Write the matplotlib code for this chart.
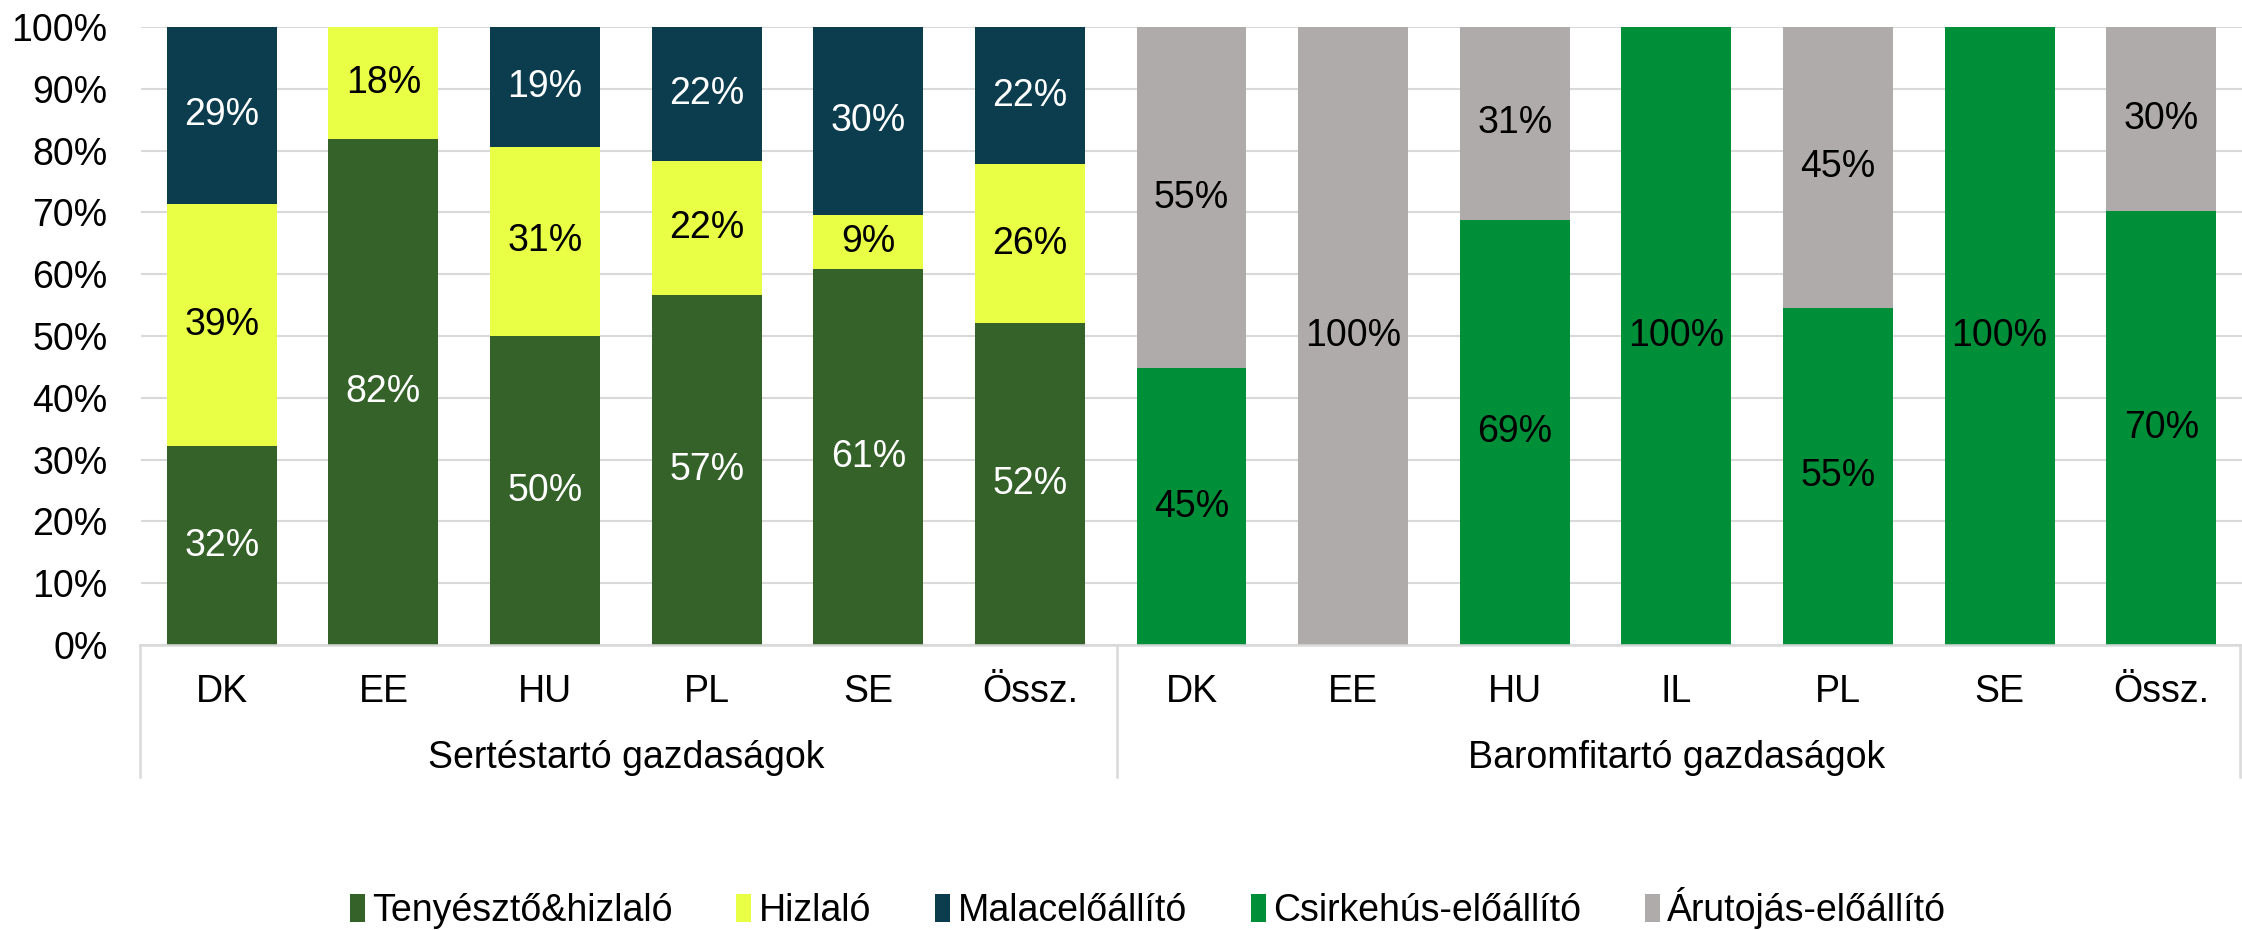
import numpy as np
import matplotlib.pyplot as plt
from matplotlib.patches import Patch

plt.rcParams['font.family'] = ['Liberation Sans', 'DejaVu Sans']

# Data (percent shares)
categories = ['DK', 'EE', 'HU', 'PL', 'SE', 'Össz.',
              'DK', 'EE', 'HU', 'IL', 'PL', 'SE', 'Össz.']
groups = ['Sertéstartó gazdaságok', 'Baromfitartó gazdaságok']
group_sizes = [6, 7]

tenyeszto = [32.2, 81.9, 50.0, 56.6, 60.8, 52.1, 0, 0, 0, 0, 0, 0, 0]
hizlalo = [39.2, 18.1, 30.6, 21.7, 8.8, 25.7, 0, 0, 0, 0, 0, 0, 0]
malac = [28.6, 0, 19.4, 21.7, 30.4, 22.2, 0, 0, 0, 0, 0, 0, 0]
csirke = [0, 0, 0, 0, 0, 0, 44.8, 0, 68.8, 100, 54.6, 100, 70.2]
tojas = [0, 0, 0, 0, 0, 0, 55.2, 100, 31.2, 0, 45.4, 0, 29.8]

series = [
    ('Tenyésztő&hizlaló', tenyeszto, '#346229', 'white'),
    ('Hizlaló', hizlalo, '#E9FF45', 'black'),
    ('Malacelőállító', malac, '#0B3D4E', 'white'),
    ('Csirkehús-előállító', csirke, '#008F39', 'black'),
    ('Árutojás-előállító', tojas, '#AFABAB', 'black'),
]

FS = 27

fig = plt.figure(figsize=(22.42, 9.3), dpi=100)
ax = fig.add_axes([141 / 2242, 1 - 645 / 930, 2101 / 2242, 618 / 930])

x = np.arange(len(categories))
bottom = np.zeros(len(categories))
for name, vals, color, tcolor in series:
    vals = np.array(vals, dtype=float)
    ax.bar(x, vals, width=0.68, bottom=bottom, color=color, zorder=2)
    for xi, v, b in zip(x, vals, bottom):
        if v > 0:
            ax.text(xi, b + v / 2, f'{v:.0f}%', ha='center', va='center',
                    fontsize=FS, color=tcolor, zorder=3)
    bottom += vals

ax.set_xlim(-0.5, len(categories) - 0.5)
ax.set_ylim(0, 100)
ax.set_yticks(np.arange(0, 101, 10))
ax.set_yticklabels([f'{v}%' for v in range(0, 101, 10)], fontsize=FS)
ax.yaxis.grid(True, color='#D9D9D9', linewidth=1.5, zorder=0)
ax.set_axisbelow(True)
ax.tick_params(axis='y', length=0, pad=24)
ax.tick_params(axis='x', length=0, pad=21)
ax.set_xticks(x)
ax.set_xticklabels(categories, fontsize=FS)
for s in ['top', 'right', 'left', 'bottom']:
    ax.spines[s].set_visible(False)

# axis line and group separators (figure pixel coordinates)
line_kw = dict(color='#D9D9D9', linewidth=1.8, transform=fig.transFigure)
fig.add_artist(plt.Line2D([140 / 2242, 1], [1 - 645 / 930] * 2, **line_kw))
for px in [140, 1117, 2240]:
    fig.add_artist(plt.Line2D([px / 2242] * 2, [1 - 645 / 930, 1 - 777 / 930], **line_kw))

# group labels
start = 0
for g, n in zip(groups, group_sizes):
    center = start + (n - 1) / 2
    ax.text(center, -0.183, g, transform=ax.get_xaxis_transform(),
            ha='center', va='center', fontsize=FS)
    start += n

handles = [Patch(facecolor=c, label=n) for n, _, c, _ in series]
fig.legend(handles=handles, loc='center', bbox_to_anchor=(1148 / 2242, 1 - 908 / 930),
           ncol=5, frameon=False, fontsize=FS, handlelength=0.4, handleheight=0.75,
           handletextpad=0.2, columnspacing=1.7)

fig.savefig('out.png', dpi=100)
